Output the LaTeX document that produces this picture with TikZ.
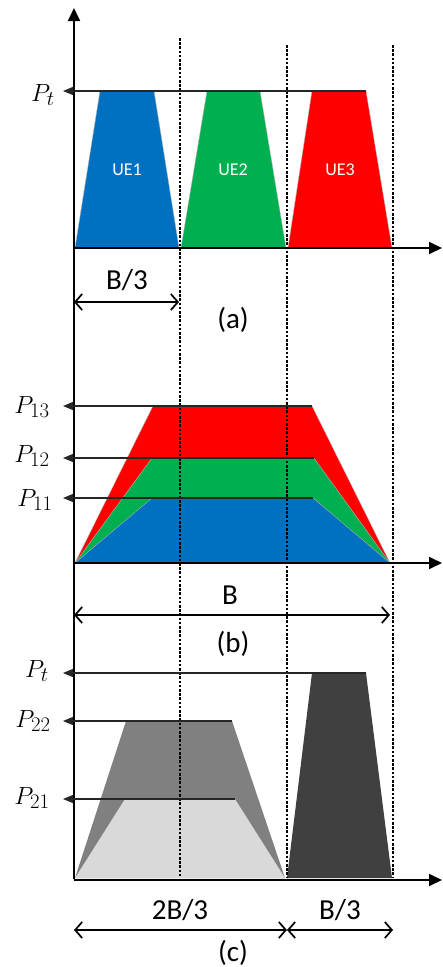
\documentclass[tikz,border=0pt]{standalone}
\usepackage{fontspec}
\setmainfont{Carlito}
\usetikzlibrary{arrows.meta}
\definecolor{ueblue}{RGB}{0,112,192}
\definecolor{uegreen}{RGB}{0,176,80}
\definecolor{uered}{RGB}{255,0,0}
\definecolor{gdark}{RGB}{64,64,64}
\definecolor{gmid}{RGB}{128,128,128}
\definecolor{glight}{RGB}{217,217,217}
\begin{document}
\begin{tikzpicture}[x=1pt,y=-1pt,
  axis/.style={line width=1.8pt,-{Triangle[length=13pt,width=12pt]}},
  level/.style={line width=1.1pt,draw=black!85,-{Triangle[length=10pt,width=8pt]}},
  gridline/.style={line width=2.1pt,dash pattern=on 2.6pt off 1.6pt},
  dim/.style={line width=1.7pt,{Straight Barb[length=7pt,width=16pt,line width=1.7pt]}-{Straight Barb[length=7pt,width=16pt,line width=1.7pt]}},
  lbl/.style={inner sep=0pt,font=\fontsize{29}{31}\selectfont},
  plbl/.style={inner sep=0pt,font=\fontsize{31}{33}\selectfont},
  uelbl/.style={inner sep=0pt,text=white,font=\fontsize{18}{19}\selectfont},
  trap/.style={draw=black!30,line width=0.4pt}
]
\useasboundingbox (0,0) rectangle (442,967);

% ---------- panel (a)
\fill[trap,fill=ueblue]  (75,248) -- (100,91) -- (154,91) -- (179,248) -- cycle;
\fill[trap,fill=uegreen] (181,248) -- (207,91) -- (260,91) -- (286,248) -- cycle;
\fill[trap,fill=uered]   (288,248) -- (312,91) -- (366,91) -- (392,248) -- cycle;
\node[uelbl] (ue1) at (127,170) {UE1};
\node[uelbl] (ue2) at (233,170) {UE2};
\node[uelbl] (ue3) at (340,170) {UE3};

% ---------- panel (b)
\fill[trap,fill=uered]   (75,563) -- (153,406) -- (312,406) -- (390,563) -- cycle;
\fill[trap,fill=uegreen] (75,563) -- (152,458) -- (314,458) -- (390,563) -- cycle;
\fill[trap,fill=ueblue]  (75,563) -- (152,498) -- (313,498) -- (390,563) -- cycle;

% ---------- panel (c)
\fill[fill=gmid]   (75,878) -- (126,721) -- (232,721) -- (285,878) -- cycle;
\fill[fill=glight] (75,878) -- (125,799) -- (235,799) -- (285,878) -- cycle;
\fill[fill=gdark]  (287,878) -- (312,673) -- (366,673) -- (392,878) -- cycle;

% ---------- dotted separators
\coordinate (d1t) at (180,38);  \coordinate (d1b) at (180,877);
\coordinate (d2t) at (287,45);  \coordinate (d2b) at (287,877);
\coordinate (d3t) at (393,45);  \coordinate (d3b) at (393,877);
\draw[gridline] (d1t) -- (d1b);
\draw[gridline] (d2t) -- (d2b);
\draw[gridline] (d3t) -- (d3b);

% ---------- axes
\coordinate (o) at (74,879);
\coordinate (ytop) at (74,8);
\draw[axis] (o) -- (ytop);
\coordinate (xa0) at (74,248); \coordinate (xa1) at (442,248);
\coordinate (xb0) at (74,563); \coordinate (xb1) at (442,563);
\coordinate (xc0) at (74,880); \coordinate (xc1) at (442,880);
\draw[axis] (xa0) -- (xa1);
\draw[axis] (xb0) -- (xb1);
\draw[axis] (xc0) -- (xc1);

% ---------- level arrows
\coordinate (pta0) at (366,91);  \coordinate (pta1) at (63,91);
\coordinate (p130) at (312,406); \coordinate (p131) at (63,406);
\coordinate (p120) at (314,458); \coordinate (p121) at (63,458);
\coordinate (p110) at (313,498); \coordinate (p111) at (63,498);
\coordinate (ptc0) at (366,673); \coordinate (ptc1) at (63,673);
\coordinate (p220) at (232,721); \coordinate (p221) at (63,721);
\coordinate (p210) at (235,799); \coordinate (p211) at (63,799);
\draw[level] (pta0) -- (pta1);
\draw[level] (p130) -- (p131);
\draw[level] (p120) -- (p121);
\draw[level] (p110) -- (p111);
\draw[level] (ptc0) -- (ptc1);
\draw[level] (p220) -- (p221);
\draw[level] (p210) -- (p211);

\node[plbl] (lpta) at (43,95) {$P_t$};
\node[plbl] (lp13) at (32,407) {$P_{13}$};
\node[plbl] (lp12) at (32,456) {$P_{12}$};
\node[plbl] (lp11) at (35,500) {$P_{11}$};
\node[plbl] (lptc) at (37,671) {$P_t$};
\node[plbl] (lp22) at (33,721) {$P_{22}$};
\node[plbl] (lp21) at (32,798) {$P_{21}$};

% ---------- dimension arrows and captions
\coordinate (da0) at (74,302);  \coordinate (da1) at (179,302);
\draw[dim] (da0) -- (da1);
\node[lbl] (tb3a) at (127,280) {B/3};
\node[lbl] (capa) at (233,320) {(a)};

\coordinate (db0) at (74,615);  \coordinate (db1) at (390,615);
\draw[dim] (db0) -- (db1);
\node[lbl] (tbb) at (230,595) {B};
\node[lbl] (capb) at (233,644) {(b)};

\coordinate (dc0) at (74,930);  \coordinate (dcm) at (287,930); \coordinate (dc1) at (393,930);
\draw[dim] (dc0) -- (dcm);
\draw[dim] (dcm) -- (dc1);
\node[lbl] (t2b3) at (180,910) {2B/3};
\node[lbl] (tb3c) at (340,910) {B/3};
\node[lbl] (capc) at (233,953) {(c)};
\end{tikzpicture}
\end{document}
